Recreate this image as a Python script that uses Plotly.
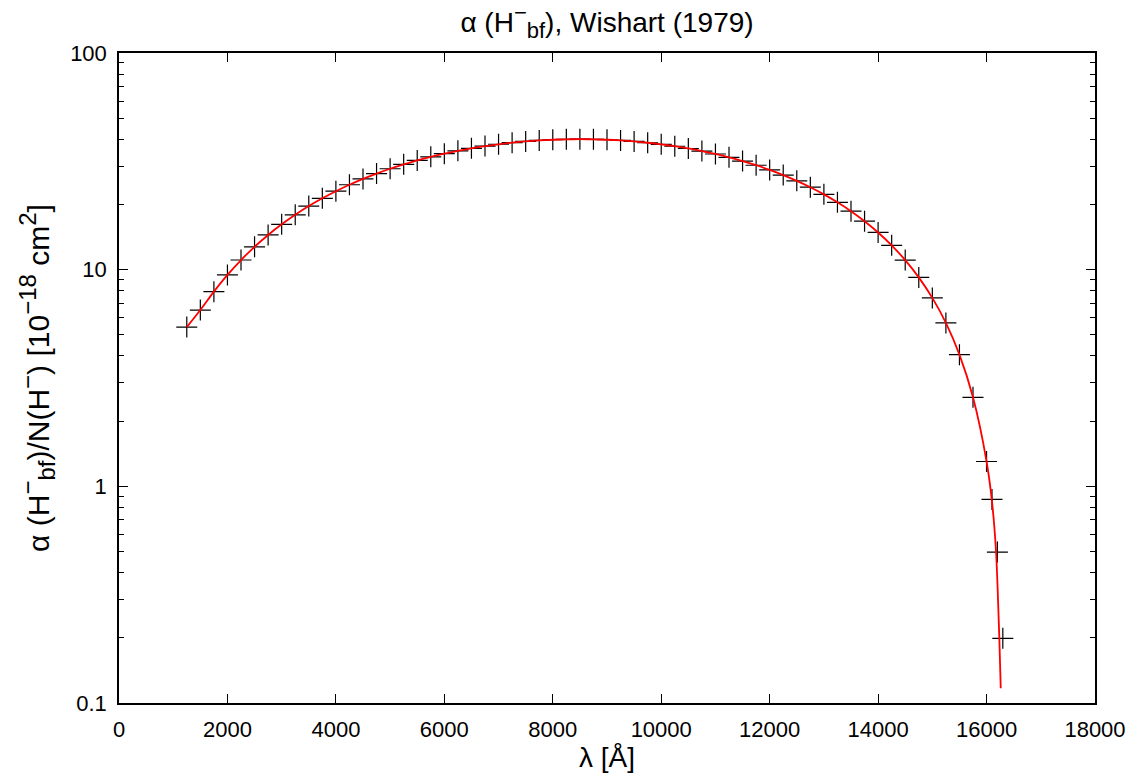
import plotly.graph_objects as go

# Wishart (1979) H- bound-free cross-section, 10^-18 cm^2
lam = [1250, 1500, 1750, 2000, 2250, 2500, 2750, 3000, 3250, 3500, 3750, 4000,
       4250, 4500, 4750, 5000, 5250, 5500, 5750, 6000, 6250, 6500, 6750, 7000,
       7250, 7500, 7750, 8000, 8250, 8500, 8750, 9000, 9250, 9500, 9750, 10000,
       10250, 10500, 10750, 11000, 11250, 11500, 11750, 12000, 12250, 12500,
       12750, 13000, 13250, 13500, 13750, 14000, 14250, 14500, 14750, 15000,
       15250, 15500, 15750, 16000, 16100, 16200, 16300]
alpha = [5.431, 6.512, 7.918, 9.453, 11.08, 12.75, 14.46, 16.19, 17.92, 19.65,
         21.35, 23.02, 24.65, 26.24, 27.77, 29.23, 30.62, 31.94, 33.17, 34.32,
         35.37, 36.32, 37.17, 37.91, 38.54, 39.07, 39.48, 39.77, 39.95, 40.01,
         39.95, 39.77, 39.48, 39.06, 38.53, 37.89, 37.13, 36.25, 35.28, 34.19,
         33.01, 31.72, 30.34, 28.87, 27.33, 25.71, 24.02, 22.26, 20.46, 18.62,
         16.74, 14.85, 12.95, 11.07, 9.211, 7.407, 5.677, 4.052, 2.575, 1.302,
         0.8697, 0.4974, 0.1989]

# fitted curve
fit_lam = lam[:-3] + [16100, 16175, 16235, 16262]
fit_alpha = alpha[:-3] + [0.85, 0.50, 0.20, 0.117]

x_ticks = list(range(0, 18001, 2000))
x_ticktext = [str(v) for v in x_ticks]
y_ticks = [0.1, 1, 10, 100]
y_ticktext = ["0.1", "1", "10", "100"]
y_minor = [m * 10 ** e for e in (-1, 0, 1) for m in range(2, 10)]

FONT = "Liberation Sans, Arial, Helvetica, sans-serif"
TICK_SIZE = 22
LABEL_SIZE = 28
YLABEL_SIZE = 30


def sup(t, px):
    return f'<sup><span style="font-size:{px}px">{t}</span></sup>'


def sub(t, px):
    return f'<sub><span style="font-size:{px}px">{t}</span></sub>'


title_text = f"α (H{sup('−', 22)}{sub('bf', 22)}), Wishart (1979)"
ytitle_text = (f"α (H{sup('−', 24)}{sub('bf', 24)})/N(H{sup('−', 24)}) "
               f"[10{sup('−18', 24)} cm{sup('2', 24)}]")

fig = go.Figure()
fig.add_trace(go.Scatter(
    x=lam, y=alpha, mode="markers",
    marker=dict(symbol="cross-thin", size=15, line=dict(color="black", width=1.2)),
    showlegend=False))
fig.add_trace(go.Scatter(
    x=fit_lam, y=fit_alpha, mode="lines",
    line=dict(color="#ff0000", width=1.8, shape="spline", smoothing=0.8),
    showlegend=False))

axis_common = dict(showline=True, linecolor="black", linewidth=1.5,
                   ticks="inside", tickcolor="black", tickwidth=1,
                   showgrid=False, zeroline=False,
                   tickfont=dict(family=FONT, size=TICK_SIZE, color="black"))

fig.update_layout(
    width=1137, height=778,
    margin=dict(l=119, r=42, t=53, b=75),
    paper_bgcolor="white", plot_bgcolor="white",
    font=dict(family=FONT, size=TICK_SIZE, color="black"),
    title=dict(text=title_text,
               x=0.5, xref="paper", xanchor="center",
               y=1 - 22 / 778, yref="container", yanchor="middle",
               font=dict(family=FONT, size=LABEL_SIZE, color="black")),
    xaxis=dict(range=[0, 18000], tickvals=x_ticks, ticktext=x_ticktext,
               ticklen=9, mirror="allticks", ticklabelstandoff=6,
               title=dict(text="λ [Å]", standoff=0,
                          font=dict(family=FONT, size=LABEL_SIZE)),
               **axis_common),
    yaxis=dict(type="log", range=[-1, 2], tickvals=y_ticks, ticktext=y_ticktext,
               ticklen=9, mirror="allticks", ticklabelstandoff=6,
               minor=dict(tickvals=y_minor, ticks="inside", ticklen=5,
                          tickcolor="black", tickwidth=1),
               title=dict(text=ytitle_text,
                          standoff=12, font=dict(family=FONT, size=YLABEL_SIZE)),
               **axis_common),
)

fig.write_html("out.html")
